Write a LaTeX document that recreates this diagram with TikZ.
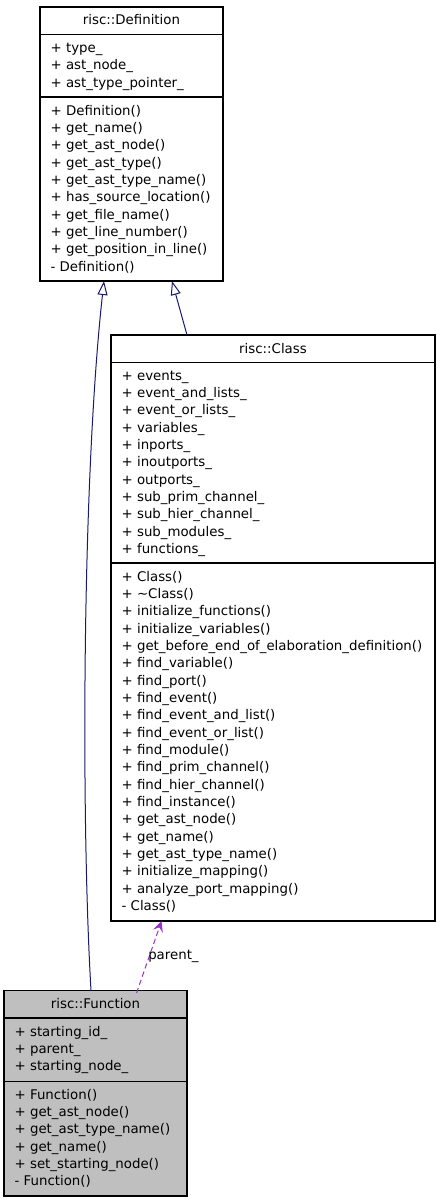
\documentclass[tikz,border=0pt]{standalone}
\usepackage{fontspec}
\setmainfont{DejaVu Sans}
\usepackage{xcolor}
\usepackage{tikz}
\usetikzlibrary{arrows.meta}
\definecolor{edgeblue}{HTML}{191970}
\definecolor{edgepurple}{HTML}{9A32CD}
\definecolor{boxgray}{HTML}{BFBFBF}

\begin{document}
\begin{tikzpicture}[x=0.75pt,y=0.75pt,yscale=-1,xscale=1,
  classbox/.style={draw, line width=0.8pt, anchor=north west, inner sep=0pt, outer sep=0pt},
  member/.style={anchor=north west, inner sep=0pt, align=left, font=\fontsize{10}{13}\selectfont},
  title/.style={anchor=base, inner sep=0pt, font=\fontsize{10}{13}\selectfont},
  inherit/.style={draw=edgeblue, line width=0.75pt, -{Triangle[open, length=10.5pt, width=7.5pt]}},
  usage/.style={draw=edgepurple, line width=0.75pt, dash pattern=on 4pt off 2.5pt, -{Stealth[length=8pt, width=7.5pt, inset=3pt]}}]

\useasboundingbox (0,0) rectangle (440,1203);

% risc::Definition
\node[classbox, minimum width=137.25pt, minimum height=205.5pt] (definition) at (40,7) {};
\draw[line width=0.8pt] (40,34.5) -- (223,34.5);
\draw[line width=0.8pt] (40,97) -- (223,97);
\node[title] (definitiontitle) at (131.5,24.3) {risc::Definition};
\node[member] (definitionattr) at (50.4,40.2) {\strut+ type\_\\+ ast\_node\_\\+ ast\_type\_pointer\_};
\node[member] (definitionops) at (50.4,102.9) {\strut+ Definition()\\+ get\_name()\\+ get\_ast\_node()\\+ get\_ast\_type()\\+ get\_ast\_type\_name()\\+ has\_source\_location()\\+ get\_file\_name()\\+ get\_line\_number()\\+ get\_position\_in\_line()\\- Definition()};

% risc::Class
\node[classbox, minimum width=243pt, minimum height=439.5pt] (cls) at (111,335) {};
\draw[line width=0.8pt] (111,362.5) -- (435,362.5);
\draw[line width=0.8pt] (111,563) -- (435,563);
\node[title] (clstitle) at (273,353.3) {risc::Class};
\node[member] (clsattr) at (121.4,367.9) {\strut+ events\_\\+ event\_and\_lists\_\\+ event\_or\_lists\_\\+ variables\_\\+ inports\_\\+ inoutports\_\\+ outports\_\\+ sub\_prim\_channel\_\\+ sub\_hier\_channel\_\\+ sub\_modules\_\\+ functions\_};
\node[member] (clsops) at (121.4,568.6) {\strut+ Class()\\+ \textasciitilde Class()\\+ initialize\_functions()\\+ initialize\_variables()\\+ get\_before\_end\_of\_elaboration\_definition()\\+ find\_variable()\\+ find\_port()\\+ find\_event()\\+ find\_event\_and\_list()\\+ find\_event\_or\_list()\\+ find\_module()\\+ find\_prim\_channel()\\+ find\_hier\_channel()\\+ find\_instance()\\+ get\_ast\_node()\\+ get\_name()\\+ get\_ast\_type\_name()\\+ initialize\_mapping()\\+ analyze\_port\_mapping()\\- Class()};

% risc::Function
\node[classbox, fill=boxgray, minimum width=137.25pt, minimum height=154.1pt] (function) at (4,990.5) {};
\draw[line width=0.8pt] (4,1018) -- (187,1018);
\draw[line width=0.8pt] (4,1081.5) -- (187,1081.5);
\node[title] (functiontitle) at (95.5,1008.3) {risc::Function};
\node[member] (functionattr) at (14.4,1023.9) {\strut+ starting\_id\_\\+ parent\_\\+ starting\_node\_};
\node[member] (functionops) at (14.4,1086.9) {\strut+ Function()\\+ get\_ast\_node()\\+ get\_ast\_type\_name()\\+ get\_name()\\+ set\_starting\_node()\\- Function()};

% edges
\draw[inherit] ([xshift=65.25pt]function.north west) .. controls (81,820) and (82,480) .. ([xshift=48pt]definition.south west);
\draw[inherit] ([xshift=57pt]cls.north west) -- ([xshift=99pt]definition.south west);
\draw[usage] ([xshift=99.4pt,yshift=1.9pt]function.north west) -- ([xshift=37.9pt]cls.south west);
\node[title, anchor=base west] (parentlabel) at (148,959.3) {parent\_};
\end{tikzpicture}
\end{document}
